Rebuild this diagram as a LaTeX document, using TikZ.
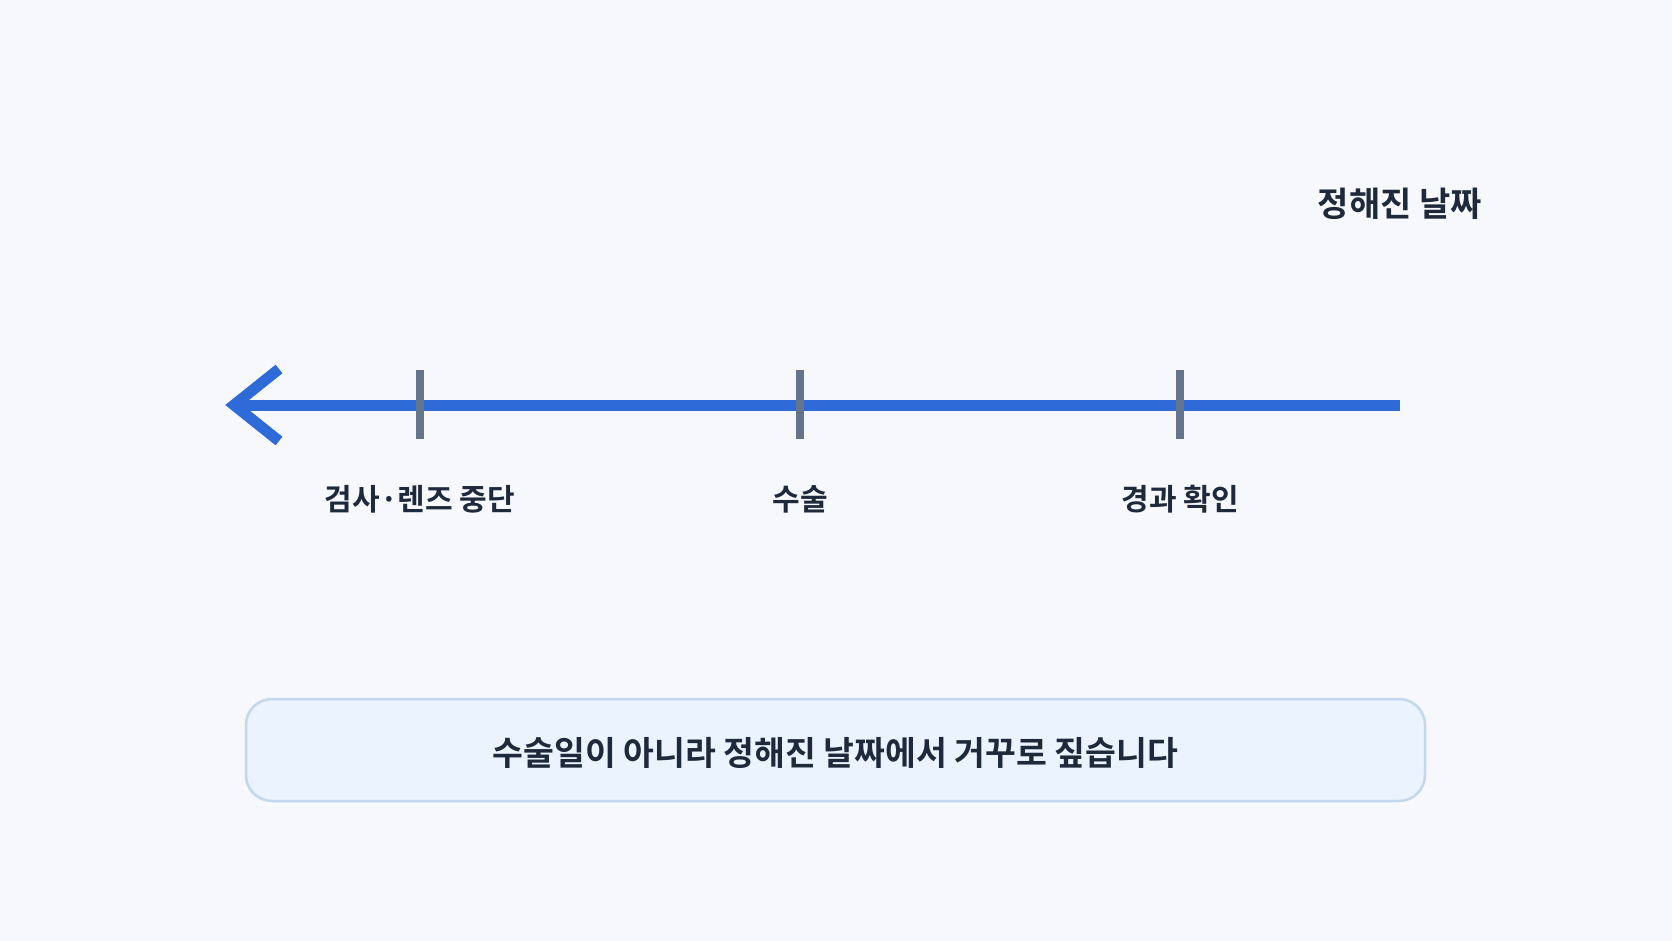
\documentclass[tikz,border=0pt]{standalone}
\usepackage{fontspec}
\newfontfamily\krfont{Noto Sans CJK KR}[BoldFont={Noto Sans CJK KR Bold}]
\definecolor{bgc}{HTML}{F6F8FB}
\definecolor{blueline}{HTML}{2F6BD8}
\definecolor{tickc}{HTML}{64748B}
\definecolor{txt}{HTML}{1E293B}
\definecolor{boxfill}{HTML}{EAF3FE}
\definecolor{boxline}{HTML}{C3D7EF}
\tikzset{
  mainline/.style={draw=blueline, line width=11pt},
  tickmark/.style={draw=tickc, line width=8pt},
  lbl/.style={font=\krfont\bfseries\fontsize{30}{36}\selectfont, text=txt, inner sep=0pt},
  toplbl/.style={font=\krfont\bfseries\fontsize{34}{40}\selectfont, text=txt, inner sep=0pt},
  notebox/.style={draw=boxline, line width=2.5pt, fill=boxfill, rounded corners=26pt,
    minimum width=1179pt, minimum height=102pt, inner sep=0pt},
  notetext/.style={font=\krfont\bfseries\fontsize{33.5}{40}\selectfont, text=txt, inner sep=0pt}
}
\begin{document}
\begin{tikzpicture}[x=1pt,y=-1pt]
\fill[bgc] (0,0) rectangle (1672,941);
\useasboundingbox (0,0) rectangle (1672,941);
% axis
\coordinate (lineend) at (1400,405);
\coordinate (linestart) at (234,405);
\coordinate (wingA) at (279,369);
\coordinate (wingB) at (279,441);
\draw[mainline] (lineend) -- (linestart);
\draw[mainline, line join=miter] (wingA) -- (linestart) -- (wingB);
% ticks
\coordinate (t1a) at (420,370); \coordinate (t1b) at (420,439);
\coordinate (t2a) at (800,370); \coordinate (t2b) at (800,439);
\coordinate (t3a) at (1180,370); \coordinate (t3b) at (1180,439);
\draw[tickmark] (t1a) -- (t1b);
\draw[tickmark] (t2a) -- (t2b);
\draw[tickmark] (t3a) -- (t3b);
% labels
\node[lbl] (l1) at (420,499) {검사·렌즈 중단};
\node[lbl] (l2) at (800,499) {수술};
\node[lbl] (l3) at (1180,499) {경과 확인};
\node[toplbl] (top) at (1400,204) {정해진 날짜};
% note
\node[notebox] (note) at (835.5,750) {};
\node[notetext, yshift=-3pt] (notelbl) at (note.center) {수술일이 아니라 정해진 날짜에서 거꾸로 짚습니다};
\end{tikzpicture}
\end{document}
